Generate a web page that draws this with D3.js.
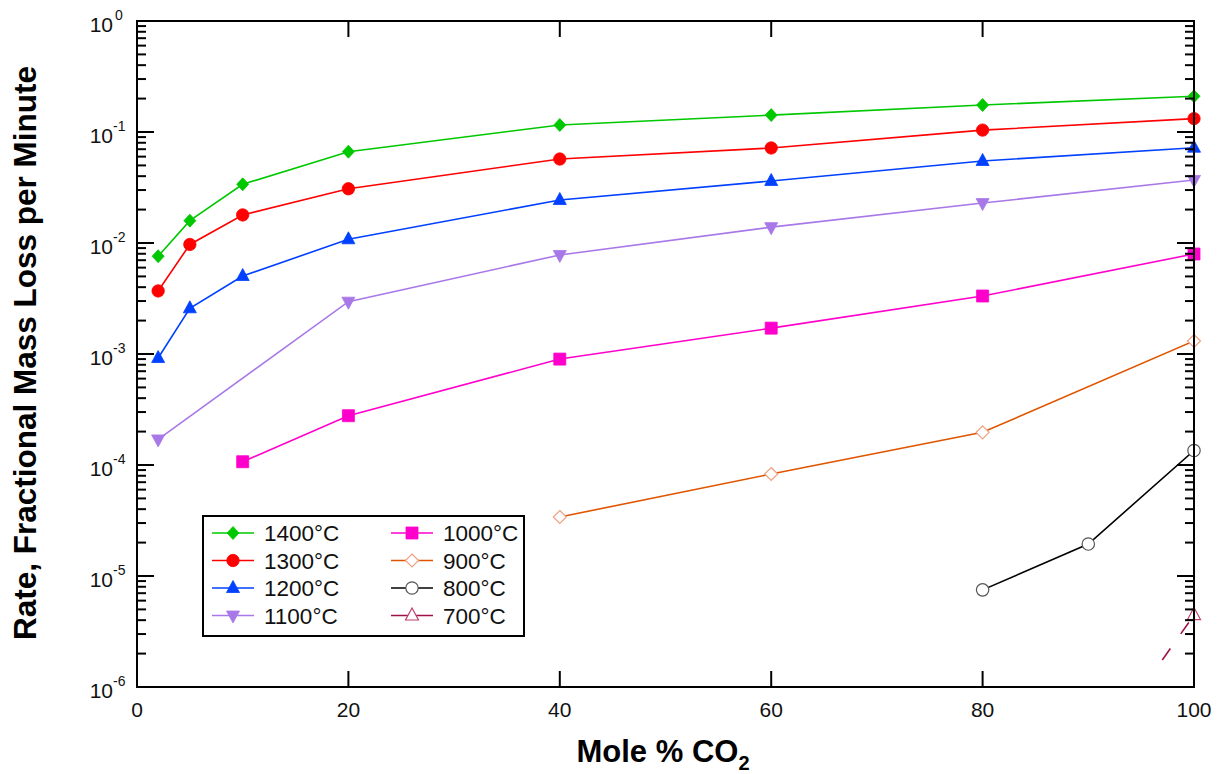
<!DOCTYPE html>
<html>
<head>
<meta charset="utf-8">
<script src="https://cdn.jsdelivr.net/npm/d3@7"></script>
<style>
  html, body { margin: 0; padding: 0; background: #fff; }
  svg { display: block; font-family: Arial, "Liberation Sans", sans-serif; }
</style>
</head>
<body>
<svg id="chart" width="1219" height="774"></svg>
<script>
// mole % CO2 and rates
const x1400 = [2, 5, 10, 20, 40, 60, 80, 100];
const y1400 = [0.0076, 0.0159, 0.0338, 0.0665, 0.1156, 0.142, 0.175, 0.21];
const x1300 = [2, 5, 10, 20, 40, 60, 80, 100];
const y1300 = [0.0037, 0.0097, 0.0179, 0.0308, 0.0571, 0.0718, 0.104, 0.132];
const x1200 = [2, 5, 10, 20, 40, 60, 80, 100];
const y1200 = [0.00092, 0.00258, 0.00504, 0.0108, 0.0244, 0.0362, 0.0548, 0.0722];
const x1100 = [2, 20, 40, 60, 80, 100];
const y1100 = [0.00017, 0.00296, 0.0078, 0.0139, 0.0229, 0.037];
const x1000 = [10, 20, 40, 60, 80, 100];
const y1000 = [0.000107, 0.000278, 0.0009, 0.00171, 0.00333, 0.00796];
const x900 = [40, 60, 80, 100];
const y900 = [3.4e-5, 8.3e-5, 1.97e-4, 0.00131];
const x800 = [80, 90, 100];
const y800 = [7.5e-6, 1.94e-5, 1.35e-4];
const x700 = [97, 100];
const y700 = [1.75e-6, 4.45e-6];

const xTicks = [0, 20, 40, 60, 80, 100];
const yDecades = [0, -1, -2, -3, -4, -5, -6];

const series = [
  { name: "1400°C", xs: x1400, ys: y1400, line: "#00c800", stroke: "#00c800", fill: "#00c800", shape: "diamond" },
  { name: "1300°C", xs: x1300, ys: y1300, line: "#ff0000", stroke: "#ff0000", fill: "#ff0000", shape: "circle" },
  { name: "1200°C", xs: x1200, ys: y1200, line: "#0040ff", stroke: "#0040ff", fill: "#0040ff", shape: "triangle" },
  { name: "1100°C", xs: x1100, ys: y1100, line: "#a878e8", stroke: "#a878e8", fill: "#a878e8", shape: "triangleDown" },
  { name: "1000°C", xs: x1000, ys: y1000, line: "#ff00cc", stroke: "#ff00cc", fill: "#ff00cc", shape: "square" },
  { name: "900°C", xs: x900, ys: y900, line: "#e05500", stroke: "#f0a080", fill: "#fff", shape: "diamondOpen" },
  { name: "800°C", xs: x800, ys: y800, line: "#000000", stroke: "#555", fill: "#fff", shape: "circleOpen" },
  { name: "700°C", xs: x700, ys: y700, line: "#a0104a", stroke: "#c04070", fill: "#fff", shape: "triangleOpen", dashed: true, markFrom: 1 },
];

const svg = d3.select("#chart");
const L = 137, R = 1194, T = 21, B = 687;

const x = d3.scaleLinear().domain([0, 100]).range([L, R]);
const y = d3.scaleLog().domain([1e-6, 1]).range([B, T]);

// marker paths centred on 0,0
function markerPath(shape) {
  switch (shape) {
    case "diamond": return "M0,-6.5L6,0L0,6.5L-6,0Z";
    case "diamondOpen": return "M0,-6.5L6.5,0L0,6.5L-6.5,0Z";
    case "circle": case "circleOpen": return d3.arc()({ innerRadius: 0, outerRadius: 6.2, startAngle: 0, endAngle: 2 * Math.PI });
    case "triangle": return "M0,-7.5L6.5,4.5L-6.5,4.5Z";
    case "triangleOpen": return "M0,-7.5L6.5,4.5L-6.5,4.5Z";
    case "triangleDown": return "M0,7.5L6.5,-4.5L-6.5,-4.5Z";
    case "square": return "M-6,-6H6V6H-6Z";
  }
}

// clip plot content
svg.append("clipPath").attr("id", "plotclip")
  .append("rect").attr("x", L).attr("y", T).attr("width", R - L).attr("height", B - T);

const plot = svg.append("g").attr("clip-path", "url(#plotclip)");

const line = d3.line().x((d) => x(d[0])).y((d) => y(d[1]));

series.forEach((s) => {
  const pts = s.xs.map((v, i) => [v, s.ys[i]]);
  plot.append("path")
    .attr("d", line(pts))
    .attr("fill", "none")
    .attr("stroke", s.line)
    .attr("stroke-width", 1.6)
    .attr("stroke-dasharray", s.dashed ? "14,18" : null);
});

series.forEach((s) => {
  const pts = s.xs.map((v, i) => [v, s.ys[i]]).slice(s.markFrom || 0);
  svg.append("g").selectAll("path")
    .data(pts)
    .join("path")
    .attr("transform", (d) => `translate(${x(d[0])},${y(d[1])})`)
    .attr("d", markerPath(s.shape))
    .attr("fill", s.fill)
    .attr("stroke", s.stroke)
    .attr("stroke-width", s.fill === "#fff" ? 1.2 : 0.8);
});

// ticks
const tk = svg.append("g").attr("stroke", "#000").attr("stroke-width", 2);
yDecades.forEach((e) => {
  const base = Math.pow(10, e);
  tk.append("line").attr("x1", L).attr("x2", L + 17).attr("y1", y(base)).attr("y2", y(base));
  tk.append("line").attr("x1", R).attr("x2", R - 17).attr("y1", y(base)).attr("y2", y(base));
  if (e < 0) {
    for (let m = 2; m <= 9; m++) {
      const v = m * base;
      tk.append("line").attr("x1", L).attr("x2", L + 9).attr("y1", y(v)).attr("y2", y(v));
      tk.append("line").attr("x1", R).attr("x2", R - 9).attr("y1", y(v)).attr("y2", y(v));
    }
  }
});
xTicks.forEach((v) => {
  tk.append("line").attr("x1", x(v)).attr("x2", x(v)).attr("y1", B).attr("y2", B - 16);
  tk.append("line").attr("x1", x(v)).attr("x2", x(v)).attr("y1", T).attr("y2", T + 16);
});

// frame
svg.append("rect")
  .attr("x", L).attr("y", T).attr("width", R - L).attr("height", B - T)
  .attr("fill", "none").attr("stroke", "#000").attr("stroke-width", 2);

// tick labels
svg.append("g").selectAll("text")
  .data(xTicks)
  .join("text")
  .attr("x", (d) => x(d))
  .attr("y", 717)
  .attr("text-anchor", "middle")
  .attr("font-size", 21)
  .attr("fill", "#111")
  .text((d) => d);

const yl = svg.append("g");
yDecades.forEach((e) => {
  yl.append("text")
    .attr("x", 113)
    .attr("y", y(Math.pow(10, e)) + 11)
    .attr("text-anchor", "end")
    .attr("font-size", 21)
    .attr("fill", "#111")
    .text("10");
  yl.append("text")
    .attr("x", e === 0 ? 115 : 113)
    .attr("y", y(Math.pow(10, e)) - 1)
    .attr("font-size", 14)
    .attr("fill", "#111")
    .text(e === 0 ? "0" : "-" + Math.abs(e));
});

// axis titles
const xt = svg.append("text")
  .attr("x", 663)
  .attr("y", 762)
  .attr("text-anchor", "middle")
  .attr("font-size", 31)
  .attr("font-weight", "bold")
  .attr("fill", "#000");
xt.append("tspan").text("Mole % CO");
xt.append("tspan").attr("font-size", 20).attr("dy", 8).text("2");

svg.append("text")
  .attr("transform", "translate(36,353) rotate(-90)")
  .attr("text-anchor", "middle")
  .attr("font-size", 31.5)
  .attr("font-weight", "bold")
  .attr("fill", "#000")
  .text("Rate, Fractional Mass Loss per Minute");

// legend
const leg = svg.append("g");
leg.append("rect")
  .attr("x", 203).attr("y", 516).attr("width", 321).attr("height", 120)
  .attr("fill", "#fff").attr("stroke", "#000").attr("stroke-width", 2);

series.forEach((s, i) => {
  const col = Math.floor(i / 4), row = i % 4;
  const lx = col === 0 ? 212 : 391;
  const ly = 533 + row * 27.5;
  const g = leg.append("g");
  g.append("line")
    .attr("x1", lx).attr("x2", lx + 42).attr("y1", ly).attr("y2", ly)
    .attr("stroke", s.line).attr("stroke-width", 1.6);
  g.append("path")
    .attr("transform", `translate(${lx + 21},${ly})`)
    .attr("d", markerPath(s.shape))
    .attr("fill", s.fill)
    .attr("stroke", s.stroke)
    .attr("stroke-width", s.fill === "#fff" ? 1.2 : 0.8);
  g.append("text")
    .attr("x", lx + 52)
    .attr("y", ly + 8)
    .attr("font-size", 22.5)
    .attr("fill", "#111")
    .text(s.name);
});
</script>
</body>
</html>
